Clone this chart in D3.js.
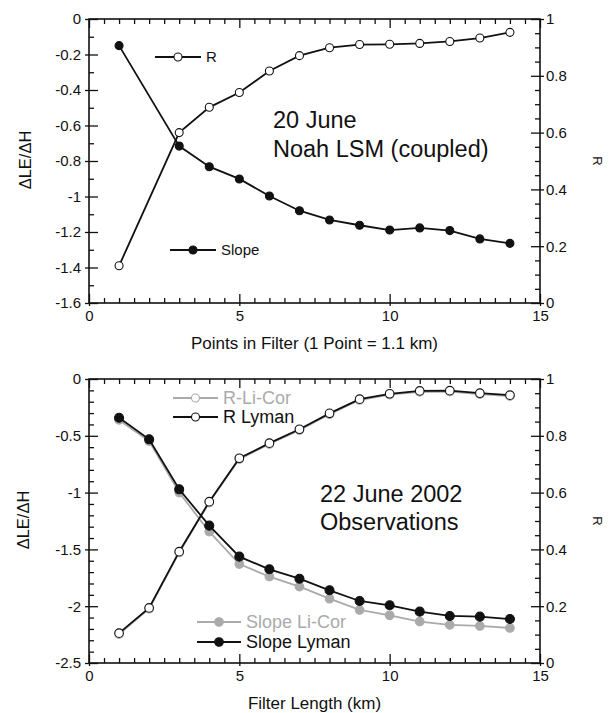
<!DOCTYPE html>
<html>
<head>
<meta charset="utf-8">
<script src="https://cdn.jsdelivr.net/npm/d3@7"></script>
<style>
  html, body { margin: 0; padding: 0; background: #fff; }
  svg { display: block; font-family: "Liberation Sans", Arial, sans-serif; }
</style>
</head>
<body>
<svg id="chart" width="614" height="713"></svg>
<script>
// ---- Panel 1: 20 June, Noah LSM (coupled) ----
const topX = [1, 3, 4, 5, 6, 7, 8, 9, 10, 11, 12, 13, 14];
const topSlope = [-0.15, -0.716, -0.832, -0.901, -0.997, -1.08, -1.132, -1.162, -1.189, -1.177, -1.192, -1.239, -1.264];
const topR = [0.131, 0.600, 0.689, 0.741, 0.817, 0.871, 0.899, 0.910, 0.911, 0.914, 0.921, 0.933, 0.953];

// ---- Panel 2: 22 June 2002 observations ----
const botX = [1, 2, 3, 4, 5, 6, 7, 8, 9, 10, 11, 12, 13, 14];
const slopeLyman = [-0.341, -0.531, -0.971, -1.291, -1.564, -1.675, -1.758, -1.860, -1.954, -1.992, -2.048, -2.086, -2.092, -2.113];
const slopeLiCor = [-0.36, -0.546, -1.0, -1.344, -1.629, -1.740, -1.828, -1.934, -2.033, -2.08, -2.136, -2.165, -2.174, -2.192];
const rLyman = [0.105, 0.194, 0.392, 0.568, 0.721, 0.774, 0.823, 0.879, 0.929, 0.948, 0.958, 0.959, 0.950, 0.943];
const rLiCor = [0.102, 0.191, 0.389, 0.565, 0.718, 0.771, 0.820, 0.876, 0.926, 0.945, 0.955, 0.956, 0.947, 0.940];

// tick labels
const xTicks = [0, 5, 10, 15];
const topYTicks = [0, -0.2, -0.4, -0.6, -0.8, -1, -1.2, -1.4, -1.6];
const botYTicks = [0, -0.5, -1, -1.5, -2, -2.5];
const rTicks = [0, 0.2, 0.4, 0.6, 0.8, 1];

const BLACK = "#111";
const GRAY = "#aaaaaa";

const svg = d3.select("#chart");

function fmt(v) {
  if (v === 0) return "0";
  return String(v);
}

function panel(opts) {
  const left = 89, right = 540, top = opts.top, bottom = opts.top + 284;
  const g = svg.append("g");
  const x = d3.scaleLinear().domain([0, 15]).range([left, right]);
  const y = d3.scaleLinear().domain(opts.yDomain).range([bottom, top]);
  const yr = d3.scaleLinear().domain([0, 1]).range([bottom, top]);

  const minorX = d3.range(0, 15.001, 0.5).filter(v => v % 5 !== 0);
  const minorY = d3.range(opts.yDomain[0], opts.yDomain[1] + 1e-9, opts.yMinor)
    .map(v => +v.toFixed(3)).filter(v => !opts.yTicks.some(t => Math.abs(t - v) < 1e-6));
  const minorR = d3.range(0, 1.0001, 0.05).map(v => +v.toFixed(3))
    .filter(v => !rTicks.some(t => Math.abs(t - v) < 1e-6));

  function style(sel) {
    sel.select(".domain").remove();
    sel.selectAll("line").attr("stroke", BLACK).attr("stroke-width", 1.3);
    sel.selectAll("text").attr("fill", BLACK).style("font-size", "15px")
      .style("font-family", '"Liberation Sans", Arial, sans-serif');
  }

  // bottom axis
  const gb = g.append("g").attr("transform", `translate(0,${bottom})`);
  gb.call(d3.axisBottom(x).tickValues(minorX).tickSize(-5).tickFormat(""));
  style(gb);
  const gbM = g.append("g").attr("transform", `translate(0,${bottom})`);
  gbM.call(d3.axisBottom(x).tickValues(xTicks).tickSize(-9).tickPadding(7).tickFormat(fmt));
  style(gbM);
  gbM.selectAll("line").attr("y1", 3);
  gbM.selectAll("text").attr("dy", "0.71em");

  // top axis
  const gt = g.append("g").attr("transform", `translate(0,${top})`);
  gt.call(d3.axisTop(x).tickValues(minorX).tickSize(-5).tickFormat(""));
  style(gt);
  const gtM = g.append("g").attr("transform", `translate(0,${top})`);
  gtM.call(d3.axisTop(x).tickValues(xTicks).tickSize(-9).tickFormat(""));
  style(gtM);

  // left axis
  const gl = g.append("g").attr("transform", `translate(${left},0)`);
  gl.call(d3.axisLeft(y).tickValues(minorY).tickSize(-5).tickFormat(""));
  style(gl);
  const glM = g.append("g").attr("transform", `translate(${left},0)`);
  glM.call(d3.axisLeft(y).tickValues(opts.yTicks).tickSize(-9).tickPadding(8).tickFormat(fmt));
  style(glM);
  glM.selectAll("line").attr("x1", -4);

  // right axis
  const gr = g.append("g").attr("transform", `translate(${right},0)`);
  gr.call(d3.axisRight(yr).tickValues(minorR).tickSize(-5).tickFormat(""));
  style(gr);
  const grM = g.append("g").attr("transform", `translate(${right},0)`);
  grM.call(d3.axisRight(yr).tickValues(rTicks).tickSize(-9).tickPadding(6).tickFormat(fmt));
  style(grM);
  grM.selectAll("line").attr("x1", 4);

  // frame
  g.append("rect").attr("x", left).attr("y", top).attr("width", right - left).attr("height", bottom - top)
    .attr("fill", "none").attr("stroke", BLACK).attr("stroke-width", 1.6);

  // axis titles
  g.append("text").attr("transform", `translate(${opts.yLabelX},${(top + bottom) / 2 - 1}) rotate(-90)`)
    .attr("text-anchor", "middle").attr("dy", "0.35em").style("font-size", "16.5px").attr("fill", BLACK)
    .text("ΔLE/ΔH");
  g.append("text").attr("transform", `translate(598,${(top + bottom) / 2}) rotate(90)`)
    .attr("text-anchor", "middle").attr("dy", "0.35em").style("font-size", "13px").attr("fill", BLACK)
    .text("R");
  g.append("text").attr("x", (left + right) / 2).attr("y", bottom + 46)
    .attr("text-anchor", "middle").style("font-size", "17px").attr("fill", BLACK)
    .text(opts.xLabel);

  return { g, x, y, yr };
}

function series(p, xs, ys, scaleY, color, filled, r) {
  const line = d3.line().x((d, i) => p.x(xs[i])).y(d => scaleY(d));
  p.g.append("path").datum(ys).attr("d", line).attr("fill", "none")
    .attr("stroke", color).attr("stroke-width", 1.8);
  p.g.selectAll(null).data(ys).enter().append("circle")
    .attr("cx", (d, i) => p.x(xs[i])).attr("cy", d => scaleY(d)).attr("r", r)
    .attr("fill", filled ? color : "#fff").attr("stroke", color).attr("stroke-width", 1.1);
}

function legendItem(g, x0, x1, y, color, filled, label, size, r) {
  g.append("line").attr("x1", x0).attr("x2", x1).attr("y1", y).attr("y2", y)
    .attr("stroke", color).attr("stroke-width", 1.8);
  g.append("circle").attr("cx", (x0 + x1) / 2).attr("cy", y).attr("r", r)
    .attr("fill", filled ? color : "#fff").attr("stroke", color).attr("stroke-width", 1.1);
  g.append("text").attr("x", x1 + 5).attr("y", y).attr("dy", "0.35em")
    .style("font-size", size + "px").attr("fill", color).text(label);
}

// ---- Top panel ----
const p1 = panel({ top: 19, yDomain: [-1.6, 0], yTicks: topYTicks, yMinor: 0.1,
  yLabelX: 25, xLabel: "Points in Filter (1 Point = 1.1 km)" });
series(p1, topX, topSlope, p1.y, BLACK, true, 4);
series(p1, topX, topR, p1.yr, BLACK, false, 4);
legendItem(p1.g, 155, 201, 57, BLACK, false, "R", 15, 4);
legendItem(p1.g, 170, 216, 250, BLACK, true, "Slope", 15, 4);
p1.g.append("text").attr("x", 273).attr("y", 128).style("font-size", "23.5px").attr("fill", BLACK).text("20 June");
p1.g.append("text").attr("x", 273).attr("y", 157).style("font-size", "23.5px").attr("fill", BLACK).text("Noah LSM (coupled)");

// ---- Bottom panel ----
const p2 = panel({ top: 379, yDomain: [-2.5, 0], yTicks: botYTicks, yMinor: 0.1,
  yLabelX: 23, xLabel: "Filter Length (km)" });
series(p2, botX, slopeLiCor, p2.y, GRAY, true, 4.3);
series(p2, botX, rLiCor, p2.yr, GRAY, false, 4.3);
series(p2, botX, slopeLyman, p2.y, BLACK, true, 4.5);
series(p2, botX, rLyman, p2.yr, BLACK, false, 4.3);
legendItem(p2.g, 173, 218, 398, GRAY, false, "R-Li-Cor", 18, 4);
legendItem(p2.g, 173, 218, 417, BLACK, false, "R Lyman", 18, 4);
legendItem(p2.g, 197, 241, 622, GRAY, true, "Slope Li-Cor", 18, 4.3);
legendItem(p2.g, 197, 241, 642, BLACK, true, "Slope Lyman", 18, 4.3);
p2.g.append("text").attr("x", 320).attr("y", 502).style("font-size", "23.5px").attr("fill", BLACK).text("22 June 2002");
p2.g.append("text").attr("x", 320).attr("y", 530).style("font-size", "23.5px").attr("fill", BLACK).text("Observations");
</script>
</body>
</html>
